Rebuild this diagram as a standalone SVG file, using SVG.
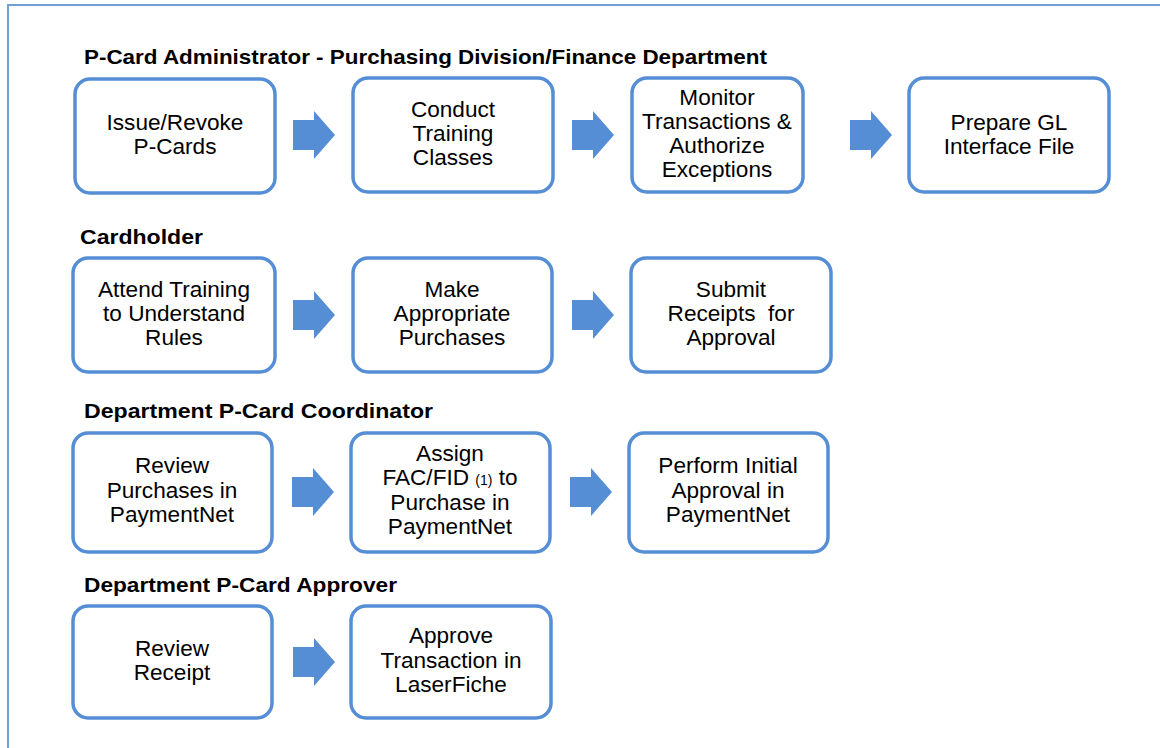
<svg xmlns="http://www.w3.org/2000/svg" width="1160" height="748" viewBox="0 0 1160 748">
<style>
.box{fill:#fff;stroke:#558ED5;stroke-width:3.5}
.t{font-family:"Liberation Sans",Arial,sans-serif;font-size:22.6px;fill:#000;text-anchor:middle}
.h{font-family:"Liberation Sans",Arial,sans-serif;font-size:20.5px;font-weight:bold;fill:#000}
.arr{fill:#558ED5}
.sm{font-size:14px}
</style>
<defs>
<path id="ar" d="M0,-15 H21 V-24 L42,0 L21,24 V15 H0 Z"/>
</defs>
<rect x="1" y="1" width="1158" height="746" fill="#fff"/>
<path d="M8,1164 V5 H1160" fill="none" stroke="#6F9FD8" stroke-width="2"/>
<g id="headers">
<text class="h" x="84" y="64" textLength="683" lengthAdjust="spacingAndGlyphs">P-Card Administrator - Purchasing Division/Finance Department</text>
<text class="h" x="80" y="244" textLength="123" lengthAdjust="spacingAndGlyphs">Cardholder</text>
<text class="h" x="84" y="418" textLength="349" lengthAdjust="spacingAndGlyphs">Department P-Card Coordinator</text>
<text class="h" x="84" y="592" textLength="313" lengthAdjust="spacingAndGlyphs">Department P-Card Approver</text>
</g>
<g id="connectors">
<use href="#ar" class="arr" x="293" y="135"/>
<use href="#ar" class="arr" x="572" y="135"/>
<use href="#ar" class="arr" x="850" y="135"/>
<use href="#ar" class="arr" x="293" y="315"/>
<use href="#ar" class="arr" x="572" y="315"/>
<use href="#ar" class="arr" x="292" y="492"/>
<use href="#ar" class="arr" x="570" y="492"/>
<use href="#ar" class="arr" x="293" y="662"/>
</g>
<g id="n1"><rect class="box" x="75" y="79" width="200" height="114" rx="15"/>
<text class="t" x="175" y="130">Issue/Revoke</text><text class="t" x="175" y="154">P-Cards</text></g>
<g id="n2"><rect class="box" x="353" y="78" width="200" height="114" rx="15"/>
<text class="t" x="453" y="117">Conduct</text><text class="t" x="453" y="141">Training</text><text class="t" x="453" y="165">Classes</text></g>
<g id="n3"><rect class="box" x="632" y="78" width="171" height="114" rx="15"/>
<text class="t" x="717" y="105">Monitor</text><text class="t" x="717" y="129">Transactions &amp;</text><text class="t" x="717" y="153">Authorize</text><text class="t" x="717" y="177">Exceptions</text></g>
<g id="n4"><rect class="box" x="909" y="78" width="200" height="114" rx="15"/>
<text class="t" x="1009" y="130">Prepare GL</text><text class="t" x="1009" y="154">Interface File</text></g>
<g id="n5"><rect class="box" x="73" y="258" width="202" height="114" rx="15"/>
<text class="t" x="174" y="297">Attend Training</text><text class="t" x="174" y="321">to Understand</text><text class="t" x="174" y="345">Rules</text></g>
<g id="n6"><rect class="box" x="353" y="258" width="199" height="114" rx="15"/>
<text class="t" x="452" y="297">Make</text><text class="t" x="452" y="321">Appropriate</text><text class="t" x="452" y="345">Purchases</text></g>
<g id="n7"><rect class="box" x="631" y="258" width="200" height="114" rx="15"/>
<text class="t" x="731" y="297">Submit</text><text class="t" x="731" y="321" xml:space="preserve">Receipts  for</text><text class="t" x="731" y="345">Approval</text></g>
<g id="n8"><rect class="box" x="73" y="433" width="199" height="119" rx="15"/>
<text class="t" x="172" y="473">Review</text><text class="t" x="172" y="498">Purchases in</text><text class="t" x="172" y="522">PaymentNet</text></g>
<g id="n9"><rect class="box" x="351" y="433" width="199" height="119" rx="15"/>
<text class="t" x="450" y="461">Assign</text><text class="t" x="450" y="485">FAC/FID <tspan class="sm">(1)</tspan> to</text><text class="t" x="450" y="510">Purchase in</text><text class="t" x="450" y="534">PaymentNet</text></g>
<g id="n10"><rect class="box" x="629" y="433" width="199" height="119" rx="15"/>
<text class="t" x="728" y="473">Perform Initial</text><text class="t" x="728" y="498">Approval in</text><text class="t" x="728" y="522">PaymentNet</text></g>
<g id="n11"><rect class="box" x="73" y="606" width="199" height="112" rx="15"/>
<text class="t" x="172" y="656">Review</text><text class="t" x="172" y="680">Receipt</text></g>
<g id="n12"><rect class="box" x="351" y="606" width="200" height="112" rx="15"/>
<text class="t" x="451" y="643">Approve</text><text class="t" x="451" y="668">Transaction in</text><text class="t" x="451" y="692">LaserFiche</text></g>
</svg>
